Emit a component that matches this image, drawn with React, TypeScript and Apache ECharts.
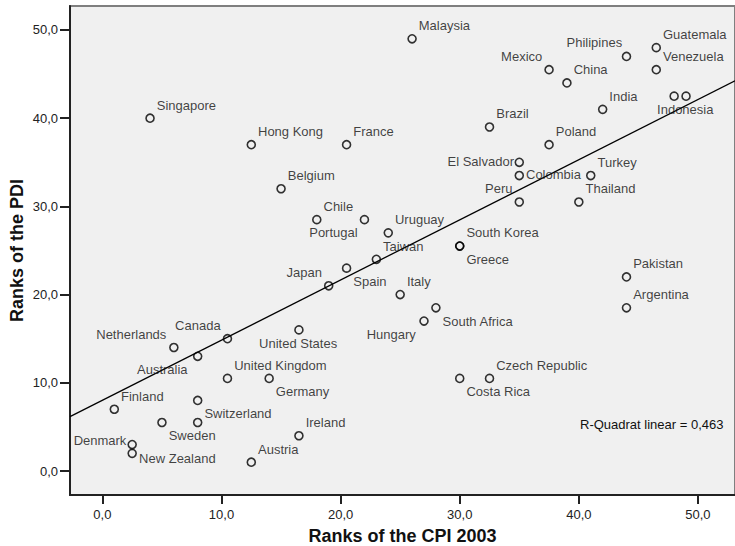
import React, { useEffect, useRef } from "react";
import * as echarts from "echarts";

// ---- data ----
const countries = [
  "Malaysia", "Mexico", "China", "Philipines", "Guatemala", "Venezuela", "India",
  "Indonesia", "", "Singapore", "Hong Kong", "France", "Brazil", "Poland", "Belgium",
  "El Salvador", "Colombia", "Turkey", "Peru", "Thailand", "Chile", "Portugal",
  "Uruguay", "Taiwan", "South Korea", "Greece", "Japan", "Spain", "Italy",
  "South Africa", "Hungary", "Pakistan", "Argentina", "United States", "Canada",
  "Netherlands", "Australia", "United Kingdom", "Germany", "Czech Republic",
  "Costa Rica", "Finland", "Switzerland", "", "Sweden", "Ireland", "Denmark",
  "New Zealand", "Austria",
];
const cpiRanks = [
  26, 37.5, 39, 44, 46.5, 46.5, 42,
  49, 48, 4, 12.5, 20.5, 32.5, 37.5, 15,
  35, 35, 41, 35, 40, 18, 22,
  24, 23, 30, 30, 19, 20.5, 25,
  28, 27, 44, 44, 16.5, 10.5,
  6, 8, 10.5, 14, 32.5,
  30, 1, 8, 8, 5, 16.5, 2.5,
  2.5, 12.5,
];
const pdiRanks = [
  49, 45.5, 44, 47, 48, 45.5, 41,
  42.5, 42.5, 40, 37, 37, 39, 37, 32,
  35, 33.5, 33.5, 30.5, 30.5, 28.5, 28.5,
  27, 24, 25.5, 25.5, 21, 23, 20,
  18.5, 17, 22, 18.5, 16, 15,
  14, 13, 10.5, 10.5, 10.5,
  10.5, 7, 8, 5.5, 5.5, 4, 3,
  2, 1,
];
const xTicks = [0, 10, 20, 30, 40, 50];
const yTicks = [0, 10, 20, 30, 40, 50];
const fitIntercept = 8.02;
const fitSlope = 0.682;
const rSquareText = "R-Quadrat linear = 0,463";
const xTitle = "Ranks of the CPI 2003";
const yTitle = "Ranks of the PDI";

// ---- label placement (style) ----
type Place = [string, number, number];
const P: Record<string, Place> = {
  ur: ["left", 7.5, -12.3],
  lr: ["left", 7.5, 14],
  ul: ["right", -6, -12.3],
  ll: ["right", -6, 14],
  r: ["left", 7.5, 0],
  l: ["right", -4.5, 0],
  b: ["center", 0, 14.5],
};
const placement: Record<string, Place> = {
  Mexico: P.ul, Philipines: ["right", -3.5, -13.3], Indonesia: P.b,
  "El Salvador": P.l, Colombia: P.r, Peru: P.ul, Portugal: P.ll, Greece: P.lr,
  Japan: P.ul, Spain: P.lr, "South Africa": P.lr, Hungary: ["right", -7.4, 14.7],
  "United States": P.b, Canada: P.ul, Netherlands: ["right", -6.7, -12.7],
  Australia: ["right", -9.3, 14], Germany: P.lr, "Costa Rica": P.lr,
  Switzerland: P.lr, Sweden: P.lr, Denmark: ["right", -5, -3],
  "New Zealand": ["left", 7.7, 5.7],
};

const FONT = "'Liberation Sans', Arial, Helvetica, sans-serif";
const X_MIN = -2.72;
const X_MAX = 53.11;
const Y_MIN = -2.72;
const Y_MAX = 52.72;
const fmt = (v: number) => v.toFixed(1).replace(".", ",");

export default function App() {
  const ref = useRef<HTMLDivElement>(null);
  useEffect(() => {
    document.body.style.margin = "0";
    if (!ref.current) return;
    const chart = echarts.init(ref.current, undefined, { renderer: "svg" });

    const points = countries.map((name, i) => {
      const pl = placement[name] || P.ur;
      return {
        name,
        value: [cpiRanks[i], pdiRanks[i]],
        label: {
          show: name !== "",
          position: [4 + pl[1], 4 + pl[2]],
          align: pl[0],
          verticalAlign: "middle",
        },
      };
    });

    chart.setOption({
      animation: false,
      grid: {
        left: 70,
        top: 6,
        right: -5,
        bottom: 51,
        show: true,
        backgroundColor: "#f0f0f0",
        borderColor: "#7f7f7f",
        borderWidth: 2,
      },
      xAxis: {
        type: "value",
        min: X_MIN,
        max: X_MAX,
        splitLine: { show: false },
        axisLine: { onZero: false, lineStyle: { color: "#222", width: 2 } },
        axisTick: { customValues: xTicks, length: 9, lineStyle: { color: "#222", width: 2 } },
        axisLabel: {
          customValues: xTicks,
          formatter: (v: number) => fmt(v),
          color: "#222",
          fontSize: 13,
          fontFamily: FONT,
          margin: 13,
        },
      },
      yAxis: {
        type: "value",
        min: Y_MIN,
        max: Y_MAX,
        splitLine: { show: false },
        axisLine: { onZero: false, lineStyle: { color: "#222", width: 2 } },
        axisTick: { customValues: yTicks, length: 10, lineStyle: { color: "#222", width: 2 } },
        axisLabel: {
          customValues: yTicks,
          formatter: (v: number) => fmt(v),
          color: "#222",
          fontSize: 13,
          fontFamily: FONT,
          margin: 12,
        },
      },
      series: [
        {
          type: "line",
          data: [
            [X_MIN, fitIntercept + fitSlope * X_MIN],
            [X_MAX, fitIntercept + fitSlope * X_MAX],
          ],
          symbol: "none",
          silent: true,
          clip: true,
          lineStyle: { color: "#000", width: 1.3 },
          z: 2,
        },
        {
          type: "scatter",
          data: points,
          symbol: "circle",
          symbolSize: 8,
          itemStyle: { color: "rgba(0,0,0,0)", borderColor: "#000", borderWidth: 1.6 },
          label: {
            show: true,
            formatter: (p: any) => p.name,
            color: "#111",
            fontSize: 13,
            fontFamily: FONT,
          },
          z: 3,
        },
      ],
      graphic: [
        {
          type: "text",
          left: 580,
          top: 418,
          style: { text: rSquareText, fill: "#111", fontSize: 13, fontFamily: FONT },
        },
        {
          type: "text",
          x: 402.5,
          y: 536,
          style: {
            text: xTitle,
            fill: "#111",
            fontSize: 18,
            fontWeight: "bold",
            fontFamily: FONT,
            align: "center",
            verticalAlign: "middle",
          },
        },
        {
          type: "text",
          x: 17,
          y: 250.5,
          rotation: Math.PI / 2,
          style: {
            text: yTitle,
            fill: "#111",
            fontSize: 18,
            fontWeight: "bold",
            fontFamily: FONT,
            align: "center",
            verticalAlign: "middle",
          },
        },
      ],
    });
    return () => chart.dispose();
  }, []);
  return <div ref={ref} style={{ width: 735, height: 546 }} />;
}
